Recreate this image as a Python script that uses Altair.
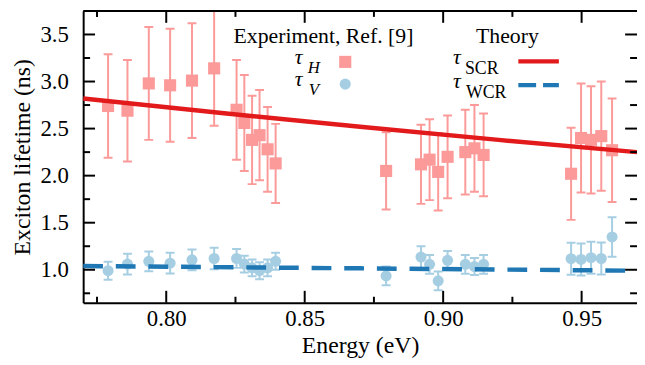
import altair as alt
import pandas as pd

# ---------------- data ----------------
energy = [0.779, 0.786, 0.7937, 0.8014, 0.8093, 0.8173, 0.8254, 0.8282, 0.8310,
          0.8337, 0.8366, 0.8395, 0.8794, 0.8920, 0.8951, 0.8982, 0.9016, 0.9080,
          0.9113, 0.9146, 0.9462, 0.9498, 0.9534, 0.9571, 0.9610]
tau_h = [2.74, 2.69, 2.98, 2.96, 3.01, 3.14, 2.70, 2.56, 2.38, 2.43, 2.28, 2.13,
         2.05, 2.12, 2.17, 2.04, 2.20, 2.25, 2.29, 2.22, 2.02, 2.40, 2.38, 2.42, 2.27]
tau_h_err = [0.55, 0.54, 0.60, 0.60, 0.61, 0.61, 0.53, 0.51, 0.47, 0.48, 0.45, 0.42,
             0.41, 0.42, 0.43, 0.41, 0.44, 0.45, 0.46, 0.44, 0.49, 0.58, 0.57, 0.58, 0.55]
tau_v = [0.99, 1.06, 1.09, 1.07, 1.105, 1.12, 1.12, 1.06, 1.02, 0.99, 1.02, 1.09,
         0.935, 1.135, 1.058, 0.882, 1.10, 1.058, 1.034, 1.058, 1.118, 1.11, 1.128, 1.12, 1.349]
tau_v_err = [0.095, 0.11, 0.105, 0.11, 0.11, 0.115, 0.10, 0.09, 0.09, 0.09, 0.09, 0.09,
             0.10, 0.115, 0.10, 0.10, 0.10, 0.10, 0.09, 0.10, 0.17, 0.17, 0.17, 0.17, 0.21]

theory_energy = [0.77, 0.82, 0.87, 0.92, 0.97]
tau_scr = [2.82, 2.665, 2.52, 2.38, 2.25]
wcr_energy = [0.77, 0.87, 0.97]
tau_wcr = [1.04, 1.015, 0.99]

x_major = [0.80, 0.85, 0.90, 0.95]
x_minor = [0.775, 0.825, 0.875, 0.925]
y_major = [1.0, 1.5, 2.0, 2.5, 3.0, 3.5]
y_minor = [0.75, 1.25, 1.75, 2.25, 2.75, 3.25]

# ---------------- style ----------------
PINK = "#fb9a99"
LBLUE = "#a6cee3"
RED = "#e31a1c"
BLUE = "#1f78b4"
FONT = "Liberation Serif"
W, H = 560, 295

xs = alt.Scale(domain=[0.77, 0.97], nice=False, zero=False)
ys = alt.Scale(domain=[0.65, 3.75], nice=False, zero=False)

common = dict(ticks=False, grid=False, domainColor="black", domainWidth=2,
              labelFont=FONT, titleFont=FONT, labelFontSize=23, titleFontSize=24,
              labelColor="black", titleColor="black", titleFontWeight="normal")
x_axis = alt.Axis(values=x_major, format=".2f", labelPadding=5,
                  title="Energy (eV)", titlePadding=3, **common)
y_axis = alt.Axis(values=y_major, format=".1f", labelPadding=15,
                  title="Exciton lifetime (ns)", titlePadding=6, **common)

df_h = pd.DataFrame({"E": energy, "t": tau_h,
                     "lo": [a - b for a, b in zip(tau_h, tau_h_err)],
                     "hi": [a + b for a, b in zip(tau_h, tau_h_err)]})
df_v = pd.DataFrame({"E": energy, "t": tau_v,
                     "lo": [a - b for a, b in zip(tau_v, tau_v_err)],
                     "hi": [a + b for a, b in zip(tau_v, tau_v_err)]})
df_scr = pd.DataFrame({"E": theory_energy, "t": tau_scr})
df_wcr = pd.DataFrame({"E": wcr_energy, "t": tau_wcr})

X = lambda f: alt.X(f, scale=xs, axis=x_axis)
Y = lambda f: alt.Y(f, scale=ys, axis=y_axis)

h_bars = alt.Chart(df_h).mark_rule(color=PINK, strokeWidth=2, clip=True).encode(
    x=X("E:Q"), y=Y("lo:Q"), y2="hi:Q")
h_caps = alt.Chart(df_h).transform_fold(["lo", "hi"], as_=["k", "v"]).mark_tick(
    orient="horizontal", size=9, thickness=2, color=PINK, opacity=1, clip=True).encode(
    x=X("E:Q"), y=Y("v:Q"))
h_pts = alt.Chart(df_h).mark_square(size=150, color=PINK, opacity=1).encode(
    x=X("E:Q"), y=Y("t:Q"))

v_bars = alt.Chart(df_v).mark_rule(color=LBLUE, strokeWidth=2, clip=True).encode(
    x=X("E:Q"), y=Y("lo:Q"), y2="hi:Q")
v_caps = alt.Chart(df_v).transform_fold(["lo", "hi"], as_=["k", "v"]).mark_tick(
    orient="horizontal", size=9, thickness=2, color=LBLUE, opacity=1, clip=True).encode(
    x=X("E:Q"), y=Y("v:Q"))
v_pts = alt.Chart(df_v).mark_circle(size=125, color=LBLUE, opacity=1).encode(
    x=X("E:Q"), y=Y("t:Q"))

scr_line = alt.Chart(df_scr).mark_line(color=RED, strokeWidth=4.5, clip=True).encode(
    x=X("E:Q"), y=Y("t:Q"))
wcr_line = alt.Chart(df_wcr).mark_line(color=BLUE, strokeWidth=4.5, strokeDash=[20, 13],
                                       clip=True).encode(
    x=X("E:Q"), y=Y("t:Q"))

# ---------------- ticks (inward) & frame ----------------
def xticks(vals, length, top):
    d = pd.DataFrame({"v": vals})
    if top:
        yy, yy2 = 0, length
    else:
        yy, yy2 = H, H - length
    return alt.Chart(d).mark_rule(color="black", strokeWidth=2).encode(
        x=X("v:Q"), y=alt.value(yy), y2=alt.value(yy2))


def yticks(vals, length, right):
    d = pd.DataFrame({"v": vals})
    if right:
        xx, xx2 = W, W - length
    else:
        xx, xx2 = 0, length
    return alt.Chart(d).mark_rule(color="black", strokeWidth=2).encode(
        y=Y("v:Q"), x=alt.value(xx), x2=alt.value(xx2))


ticks = [xticks(x_major, 12, False), xticks(x_minor, 6, False),
         xticks(x_major, 12, True), xticks(x_minor, 6, True),
         yticks(y_major, 12, False), yticks(y_minor, 7, False),
         yticks(y_major, 12, True), yticks(y_minor, 7, True)]

one = pd.DataFrame({"a": [0]})
top_frame = alt.Chart(one).mark_rule(color="black", strokeWidth=2).encode(
    x=alt.value(0), x2=alt.value(W), y=alt.value(0))

# ---------------- legend ----------------
def txt(s, x, y, size=22, italic=False, align="left"):
    return alt.Chart(one).mark_text(
        font=FONT, fontSize=size, fontStyle="italic" if italic else "normal",
        align=align, baseline="alphabetic", color="black").encode(
        x=alt.value(x), y=alt.value(y), text=alt.value(s))


legend = [
    txt("Experiment, Ref. [9]", 243, 32, align="center"),
    txt("Theory", 429, 32, align="center"),
    txt("τ", 214, 54, italic=True), txt("H", 227, 63, size=17, italic=True),
    txt("τ", 214, 76, italic=True), txt("V", 228, 85, size=17, italic=True),
    txt("τ", 374, 54, italic=True), txt("SCR", 386, 64, size=18),
    txt("τ", 374, 78, italic=True), txt("WCR", 387, 88, size=18),
    alt.Chart(one).mark_square(size=150, color=PINK, opacity=1).encode(
        x=alt.value(265), y=alt.value(51.5)),
    alt.Chart(one).mark_circle(size=125, color=LBLUE, opacity=1).encode(
        x=alt.value(265), y=alt.value(74)),
    alt.Chart(one).mark_rule(color=RED, strokeWidth=4.5).encode(
        x=alt.value(440), x2=alt.value(481), y=alt.value(51)),
    alt.Chart(one).mark_rule(color=BLUE, strokeWidth=4.5, strokeDash=[18, 7]).encode(
        x=alt.value(440), x2=alt.value(481), y=alt.value(75)),
]

chart = alt.layer(
    h_bars, h_caps, h_pts, v_bars, v_caps, v_pts, scr_line, wcr_line,
    top_frame, *ticks, *legend
).properties(
    width=W, height=H,
    padding={"left": 76, "top": 1, "right": 0, "bottom": 60},
    autosize=alt.AutoSizeParams(type="none"),
).configure(font=FONT).configure_view(stroke=None)

chart.save("out.html", embed_options={"renderer": "svg", "actions": False})
